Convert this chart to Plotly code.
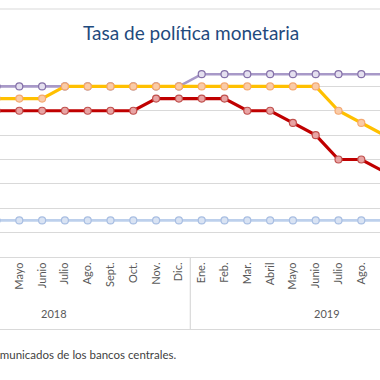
import plotly.graph_objects as go

# Data (policy rates, %), April 2018 .. September 2019
months = ["Abril", "Mayo", "Junio", "Julio", "Ago.", "Sept.", "Oct.", "Nov.", "Dic.",
          "Ene.", "Feb.", "Mar.", "Abril", "Mayo", "Junio", "Julio", "Ago.", "Sept."]
years = ["2018", "2019"]
purple_vals = [5.5, 5.5, 5.5, 5.5, 5.5, 5.5, 5.5, 5.5, 5.5,
               5.75, 5.75, 5.75, 5.75, 5.75, 5.75, 5.75, 5.75, 5.75]
yellow_vals = [5.25, 5.25, 5.25, 5.5, 5.5, 5.5, 5.5, 5.5, 5.5,
               5.5, 5.5, 5.5, 5.5, 5.5, 5.5, 5.0, 4.75, 4.5]
red_vals = [5.0, 5.0, 5.0, 5.0, 5.0, 5.0, 5.0, 5.25, 5.25,
            5.25, 5.25, 5.0, 5.0, 4.75, 4.5, 4.0, 4.0, 3.75]
blue_vals = [2.75] * 18

x = list(range(len(months)))

W, H = 380, 380
T, B = 62, 123
PH = H - T - B
BOT = H - B


def py(px):
    return (BOT - px) / PH


fig = go.Figure()


def add(vals, line_c, fill_c, edge_c, lw):
    fig.add_trace(go.Scatter(
        x=x, y=vals, mode="lines+markers",
        line=dict(color=line_c, width=lw),
        marker=dict(symbol="circle", size=7, color=fill_c,
                    line=dict(color=edge_c, width=1.2)),
        showlegend=False, hoverinfo="skip", cliponaxis=True))


add(blue_vals, "#BDD0EC", "#D9E3F3", "#A8BEE2", 2.8)
add(red_vals, "#C00000", "#E8A4A4", "#C0504D", 3.2)
add(purple_vals, "#A899C8", "#E4DFEF", "#8470A8", 2.6)
add(yellow_vals, "#FFC000", "#F9CBA8", "#F4A870", 3.2)

shapes = [
    dict(type="line", xref="paper", yref="paper", x0=0, x1=1, y0=py(9), y1=py(9),
         line=dict(color="#D9D9D9", width=1.2)),
    dict(type="line", xref="paper", yref="paper", x0=0, x1=1, y0=py(329.5), y1=py(329.5),
         line=dict(color="#D9D9D9", width=1.2)),
    dict(type="line", xref="x", yref="paper", x0=8.5, x1=8.5, y0=0, y1=py(329.5),
         line=dict(color="#D9D9D9", width=1.2)),
]

annotations = [
    dict(text="Tasa de política monetaria", xref="paper", yref="paper",
         x=191 / W, y=py(32), xanchor="center", yanchor="middle", showarrow=False,
         font=dict(family="Lato", size=19, color="#1F4A7D")),
    dict(text=years[0], xref="x", yref="paper", x=2.5, y=py(313),
         xanchor="center", yanchor="middle", showarrow=False,
         font=dict(family="Lato", size=11, color="#595959")),
    dict(text=years[1], xref="x", yref="paper", x=14.5, y=py(313),
         xanchor="center", yanchor="middle", showarrow=False,
         font=dict(family="Lato", size=11, color="#595959")),
    dict(text="Fuente: comunicados de los bancos centrales.", xref="paper", yref="paper",
         x=178 / W, y=py(354), xanchor="right", yanchor="middle", showarrow=False,
         font=dict(family="Lato", size=11.5, color="#3F3F3F")),
]

fig.update_layout(
    width=W, height=H,
    margin=dict(l=0, r=0, t=T, b=B, pad=0),
    paper_bgcolor="white", plot_bgcolor="white",
    shapes=shapes, annotations=annotations,
    xaxis=dict(range=[0.153, 16.82], tickmode="array", tickvals=x, ticktext=months,
               tickangle=-90, showgrid=False, zeroline=False,
               showline=True, linecolor="#D9D9D9", linewidth=1.2, ticks="",
               tickfont=dict(family="Lato", size=11, color="#595959")),
    yaxis=dict(range=[2.0, 6.0], dtick=0.5, showgrid=True, gridcolor="#D9D9D9",
               gridwidth=1.2, zeroline=False, showticklabels=False, ticks=""),
)

fig.write_html("out.html", config={"displayModeBar": False},
               post_script="document.body.style.margin='0';document.body.style.padding='0';")
